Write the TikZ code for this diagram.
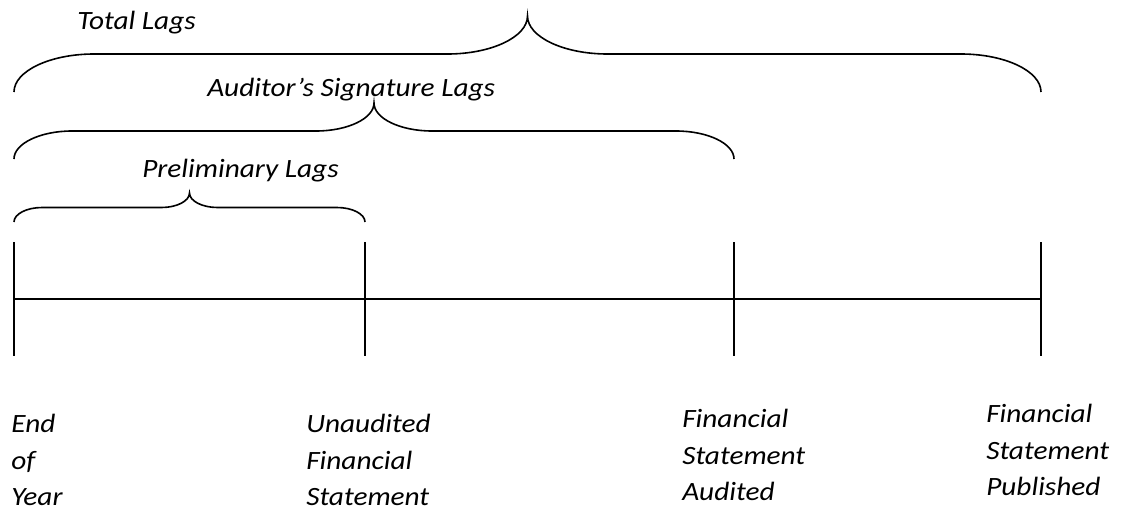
\documentclass[tikz,border=0pt]{standalone}
\usepackage{fontspec}
\setmainfont{Carlito}[FakeStretch=1.11]
\usetikzlibrary{calc}
\tikzset{
  lag/.style={font=\itshape\fontsize{19.8}{27.4}\selectfont, inner sep=0pt, anchor=base west},
  event/.style={font=\itshape\fontsize{19.8}{27.4}\selectfont, inner sep=0pt, anchor=north west, align=left},
  bracket/.style={line width=1.2pt},
  timeline/.style={line width=1.3pt}
}
% brace from (#1,#3) to (#2,#3), rising #4 twice, corners #5 wide
\newcommand{\lagbrace}[5]{%
  \pgfmathsetmacro{\lagmid}{(#1+#2)/2}
  \pgfmathsetmacro{\lagflat}{#3-#4}
  \pgfmathsetmacro{\lagtip}{#3-2*#4}
  \draw[bracket] (#1,#3) .. controls (#1,#3-0.55*#4) and (#1+0.45*#5,\lagflat) .. (#1+#5,\lagflat)
    -- (\lagmid-#5,\lagflat) .. controls (\lagmid-0.45*#5,\lagflat) and (\lagmid,\lagtip+0.55*#4) .. (\lagmid,\lagtip)
    .. controls (\lagmid,\lagtip+0.55*#4) and (\lagmid+0.45*#5,\lagflat) .. (\lagmid+#5,\lagflat)
    -- (#2-#5,\lagflat) .. controls (#2-0.45*#5,\lagflat) and (#2,#3-0.55*#4) .. (#2,#3);
}
\begin{document}
\begin{tikzpicture}[x=0.75pt,y=-0.75pt]
\useasboundingbox (0,0) rectangle (1129,518);
% lags
\lagbrace{14}{1041}{92}{38}{80}
\lagbrace{14}{734}{159}{28}{58}
\lagbrace{14}{365}{222}{14.5}{28}
\node[lag] (total) at (77,29) {Total Lags};
\node[lag] (auditor) at (207,96) {Auditor’s Signature Lags};
\node[lag] (prelim) at (142,177) {Preliminary Lags};
% time line
\coordinate (yearend) at (14,299);
\coordinate (unaudited) at (365,299);
\coordinate (audited) at (734,299);
\coordinate (published) at (1041,299);
\draw[timeline] (yearend) -- (published);
\foreach \p in {yearend,unaudited,audited,published}
  \draw[timeline] ($(\p)+(0,-57)$) -- ($(\p)+(0,57)$);
% events
\node[event] (yearendlbl) at (11,414) {End\\of\\Year};
\node[event] (unauditedlbl) at (306,414) {Unaudited\\Financial\\Statement};
\node[event] (auditedlbl) at (682,409) {Financial\\Statement\\Audited};
\node[event] (publishedlbl) at (986,404) {Financial\\Statement\\Published};
\end{tikzpicture}
\end{document}
